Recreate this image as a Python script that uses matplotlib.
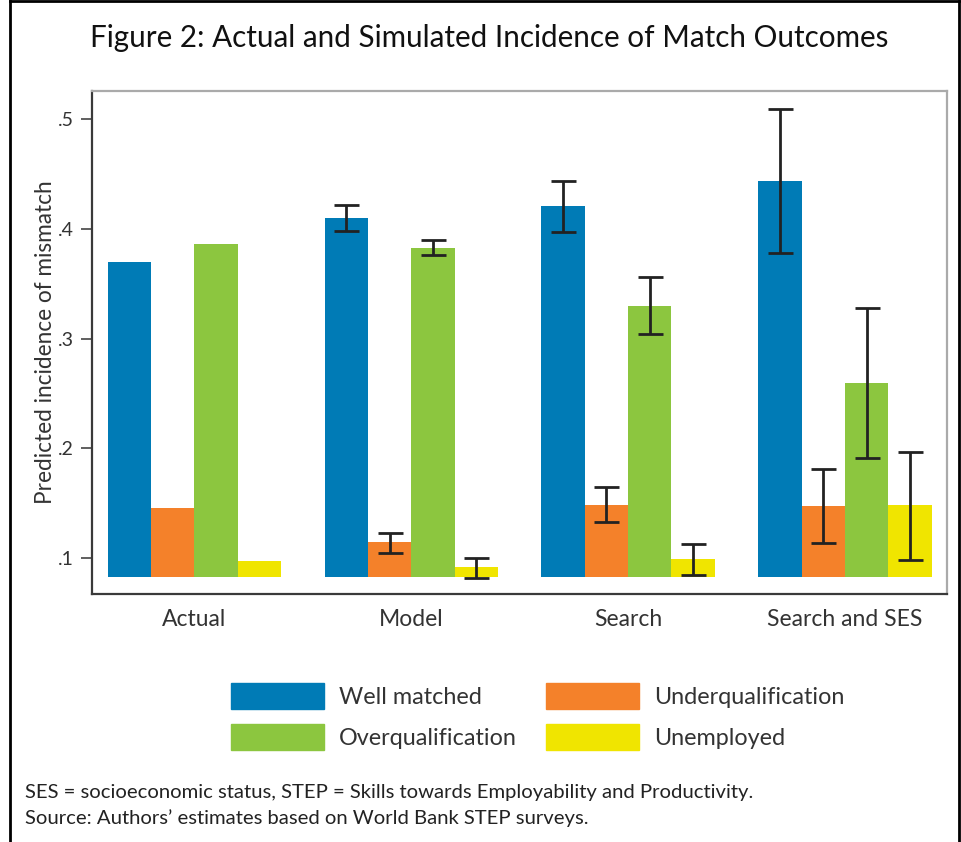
import numpy as np
import matplotlib
matplotlib.use("Agg")
import matplotlib.pyplot as plt
from matplotlib.lines import Line2D

plt.rcParams['font.family'] = ['Lato', 'DejaVu Sans']

# data
groups = ['Actual', 'Model', 'Search', 'Search and SES']
series = ['Well matched', 'Underqualification', 'Overqualification', 'Unemployed']
colors = ['#007bb6', '#f4812a', '#8cc63f', '#f0e500']

well_matched = [0.370, 0.410, 0.421, 0.444]
underqual = [0.146, 0.115, 0.148, 0.147]
overqual = [0.386, 0.383, 0.330, 0.260]
unemployed = [0.097, 0.092, 0.099, 0.148]

# confidence intervals (lower, upper); None for the actual data
well_lo = [None, 0.398, 0.397, 0.378]
well_hi = [None, 0.422, 0.444, 0.509]
under_lo = [None, 0.105, 0.133, 0.114]
under_hi = [None, 0.123, 0.165, 0.181]
over_lo = [None, 0.376, 0.304, 0.191]
over_hi = [None, 0.390, 0.356, 0.328]
unemp_lo = [None, 0.082, 0.085, 0.098]
unemp_hi = [None, 0.100, 0.113, 0.197]

yticks = [0.1, 0.2, 0.3, 0.4, 0.5]
ytick_labels = ['.1', '.2', '.3', '.4', '.5']
base = 0.0824

values = [well_matched, underqual, overqual, unemployed]
lows = [well_lo, under_lo, over_lo, unemp_lo]
highs = [well_hi, under_hi, over_hi, unemp_hi]

fig = plt.figure(figsize=(9.62, 8.42), dpi=100)
ax = fig.add_axes([0.0960, 0.2945, 0.8881, 0.5971])

centers = np.arange(len(groups)) * 5.0
offsets = [-1.5, -0.5, 0.5, 1.5]
for k in range(4):
    x = centers + offsets[k]
    v = np.array(values[k])
    ax.bar(x, v - base, bottom=base, width=1.0, color=colors[k], label=series[k])
    for i in range(len(groups)):
        if lows[k][i] is None:
            continue
        mid = (lows[k][i] + highs[k][i]) / 2
        half = (highs[k][i] - lows[k][i]) / 2
        ax.errorbar(x[i], mid, yerr=half, fmt='none', ecolor='#222222',
                    elinewidth=2.0, capsize=9, capthick=2.0, zorder=5)

ax.set_xlim(-2.354, 17.346)
ax.set_ylim(0.0672, 0.5255)
ax.set_yticks(yticks)
ax.set_yticklabels(ytick_labels)
ax.set_xticks(centers)
ax.set_xticklabels(groups)
ax.tick_params(axis='y', length=8, width=1.2, color='#444444', labelsize=14,
               labelcolor='#333333', pad=5)
ax.tick_params(axis='x', length=0, labelsize=16.5, labelcolor='#333333', pad=11)
ax.set_ylabel('Predicted incidence of mismatch', fontsize=16.3, color='#333333',
              labelpad=1.5)

for s in ['left', 'bottom']:
    ax.spines[s].set_color('#3a3a3a')
    ax.spines[s].set_linewidth(1.6)
for s in ['top', 'right']:
    ax.spines[s].set_color('#aaaaaa')
    ax.spines[s].set_linewidth(1.6)

fig.text(0.508, 0.955, 'Figure 2: Actual and Simulated Incidence of Match Outcomes',
         ha='center', va='center', fontsize=21.3, color='#111111')

handles = [plt.Rectangle((0, 0), 1, 1, color=c) for c in colors]
fig.legend([handles[0], handles[2], handles[1], handles[3]],
           [series[0], series[2], series[1], series[3]],
           ncol=2, loc='center', bbox_to_anchor=(0.5588, 0.149),
           frameon=False, fontsize=16.8, handlelength=4.0, handleheight=1.35,
           handletextpad=0.64, columnspacing=1.24, labelspacing=0.64,
           labelcolor='#333333')

fig.text(0.026, 0.0585,
         'SES = socioeconomic status, STEP = Skills towards Employability and Productivity.',
         ha='left', va='center', fontsize=14.6, color='#222222')
fig.text(0.026, 0.0290,
         'Source: Authors\u2019 estimates based on World Bank STEP surveys.',
         ha='left', va='center', fontsize=14.6, color='#222222')

# outer frame: top, left and right edges
for xs, ys in [([0.0104, 0.9969], [0.9985, 0.9985]),
               ([0.0104, 0.0104], [0.0, 0.9985]),
               ([0.9969, 0.9969], [0.0, 0.9985])]:
    fig.add_artist(Line2D(xs, ys, color='#000000', linewidth=2.0,
                          transform=fig.transFigure))

fig.savefig('out.png', dpi=100)
